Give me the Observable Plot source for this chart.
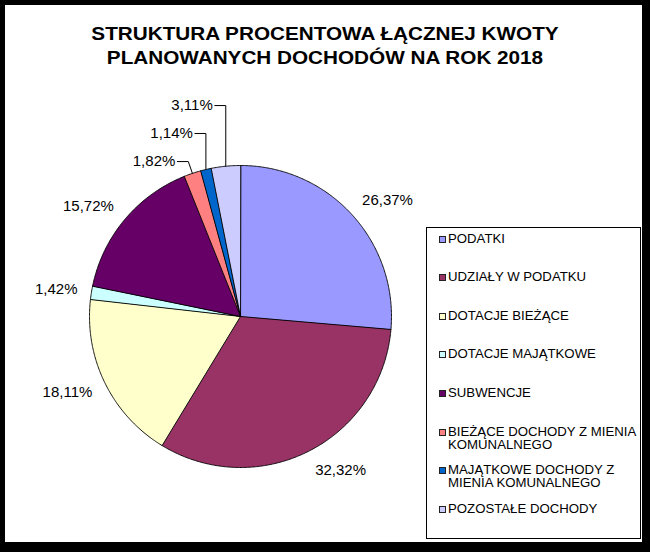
<!DOCTYPE html>
<html><head><meta charset="utf-8">
<script src="https://cdn.jsdelivr.net/npm/d3@7"></script>
<script src="https://cdn.jsdelivr.net/npm/@observablehq/plot@0.6"></script>
<style>
body{margin:0;background:#000;}
#frame{position:relative;width:650px;height:552px;background:#000;overflow:hidden;font-family:"Liberation Sans",Arial,sans-serif;color:#000;}
#inner{position:absolute;left:5px;top:5px;width:637px;height:537px;background:#fff;}
#chart{position:absolute;left:0;top:0;}
#title{position:absolute;left:0;top:23px;width:650px;text-align:center;font-weight:bold;font-size:18px;line-height:23.5px;transform:scaleX(1.15);transform-origin:325px 0;}
#legend{position:absolute;left:426px;top:227px;width:215px;height:312px;border:1px solid #000;box-sizing:border-box;background:#fff;}
.item{position:absolute;left:0;width:210px;}
.mk{position:absolute;left:12px;top:3px;width:5px;height:5px;border:1px solid #222;}
.lt{position:absolute;left:21px;top:0;width:176px;font-size:12px;line-height:13px;transform:scaleX(1.1);transform-origin:0 0;}
</style></head>
<body>
<div id="frame"><div id="inner"></div><div id="chart"></div><div id="title"></div><div id="legend"></div></div>
<script>
const categories = ["PODATKI","UDZIAŁY W PODATKU","DOTACJE BIEŻĄCE","DOTACJE MAJĄTKOWE","SUBWENCJE","BIEŻĄCE DOCHODY Z MIENIA KOMUNALNEGO","MAJĄTKOWE DOCHODY Z MIENIA KOMUNALNEGO","POZOSTAŁE DOCHODY"];
const shares = [26.37, 32.32, 18.11, 1.42, 15.72, 1.82, 1.14, 3.11];
const colors = ["#9999FF","#993366","#FFFFCC","#CCFFFF","#660066","#FF8080","#0066CC","#CCCCFF"];
const titleLines = ["STRUKTURA PROCENTOWA ŁĄCZNEJ KWOTY","PLANOWANYCH DOCHODÓW NA ROK 2018"];
// layout: manually moved labels (slice index -> [label height in radii, elbow shift in radii])
const movedLabels = new Map([[5,[1.026,-0.027]],[6,[1.212,0]],[7,[1.397,0]]]);

const R = 151, cx = 240, cy = 316, W = 650, H = 552;
const total = d3.sum(shares);
let acc = 0;
const slices = shares.map((v,i)=>{const a0=acc/total*2*Math.PI; acc+=v; const a1=acc/total*2*Math.PI; return {i,name:categories[i],value:v,a0,a1,mid:(a0+a1)/2};});
const pts = [];
for (const s of slices){
  pts.push({name:s.name,x:0,y:0});
  const n = Math.max(2, Math.ceil((s.a1-s.a0)/(Math.PI/360)));
  for (let k=0;k<=n;k++){const a=s.a0+(s.a1-s.a0)*k/n; pts.push({name:s.name,x:Math.sin(a),y:Math.cos(a)});}
}
const fmt = v => v.toFixed(2).replace(".",",")+"%";
const labels = [], leaders = [];
for (const s of slices){
  const sn=Math.sin(s.mid), cs=Math.cos(s.mid);
  if (movedLabels.has(s.i)){
    const [lift,edx] = movedLabels.get(s.i);
    const ex = sn + edx, endx = ex - 11/R;
    leaders.push({k:s.i,x:sn,y:cs},{k:s.i,x:ex,y:lift},{k:s.i,x:endx,y:lift});
    labels.push({x:endx-2/R,y:lift,text:fmt(s.value),anchor:"end"});
  } else {
    const r = 1 + 14/R;
    labels.push({x:sn*r, y:cs*r + 7/R*cs, text:fmt(s.value), anchor: sn>=0?"start":"end"});
  }
}
const plot = Plot.plot({
  width: W, height: H,
  marginLeft: cx-R, marginRight: W-(cx+R), marginTop: cy-R, marginBottom: H-(cy+R),
  x:{domain:[-1,1],axis:null}, y:{domain:[-1,1],axis:null},
  color:{domain:categories,range:colors},
  style:{background:"transparent",fontFamily:"'Liberation Sans', Arial, sans-serif",overflow:"visible"},
  marks:[
    Plot.line(pts,{x:"x",y:"y",z:"name",fill:"name",stroke:"#000",strokeWidth:0.9,curve:"linear-closed"}),
    Plot.line(leaders,{x:"x",y:"y",z:"k",stroke:"#000",strokeWidth:1}),
    Plot.text(labels.filter(d=>d.anchor==="start"),{x:"x",y:"y",text:"text",textAnchor:"start",lineAnchor:"middle",fontSize:15,fill:"#000"}),
    Plot.text(labels.filter(d=>d.anchor==="end"),{x:"x",y:"y",text:"text",textAnchor:"end",lineAnchor:"middle",fontSize:15,fill:"#000"})
  ]
});
document.getElementById("chart").appendChild(plot);
document.getElementById("title").innerHTML = titleLines.map(t=>`<div>${t}</div>`).join("");
const lg = document.getElementById("legend");
categories.forEach((c,i)=>{
  const it = document.createElement("div");
  it.className="item";
  it.style.top = (239-228-6.5+38.6*i)+"px";
  it.innerHTML = `<span class="mk" style="background:${colors[i]}"></span><span class="lt">${c}</span>`;
  lg.appendChild(it);
});
</script>
</body></html>
